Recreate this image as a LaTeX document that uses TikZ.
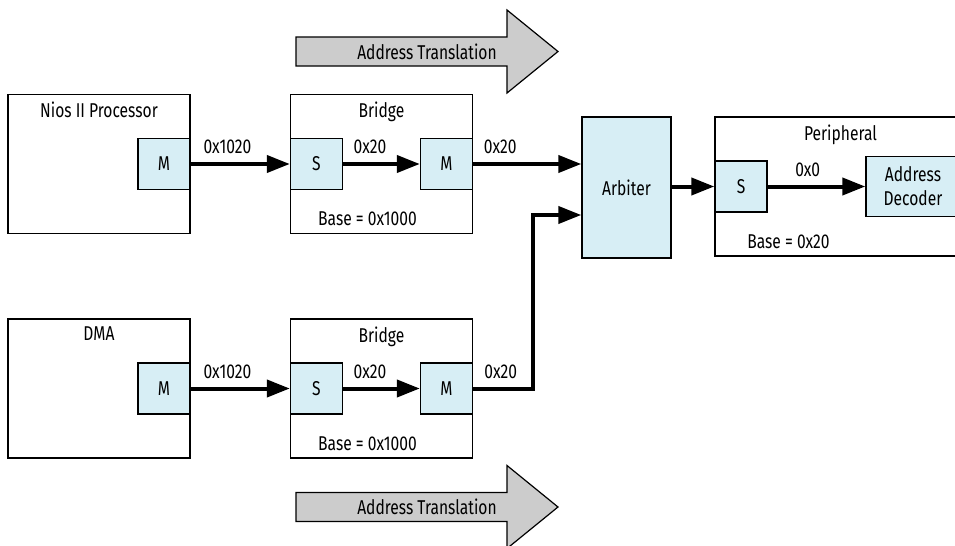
\documentclass[tikz,border=0pt]{standalone}
\usepackage{fontspec}
\setmainfont{Fira Sans}[FakeStretch=0.78]
\usetikzlibrary{arrows.meta, positioning}
\definecolor{portfill}{HTML}{D7EEF5}
\definecolor{xlgray}{HTML}{CCCCCC}
\tikzset{
	unit/.style={draw, line width=0.7pt, minimum width=91pt, minimum height=69.5pt, inner sep=0pt},
	port/.style={draw, line width=0.7pt, fill=portfill, minimum width=26pt, minimum height=25.5pt, inner sep=0pt},
	tag/.style={inner sep=1pt},
	bus/.style={-{Triangle[length=11.5pt, width=8.5pt]}, line width=2pt},
	xlat/.style={draw, line width=0.6pt, fill=xlgray},
}

\begin{document}
\begin{tikzpicture}[x=0.5pt, y=-0.5pt, font=\fontsize{10}{12}\selectfont]
		\useasboundingbox (0,0) rectangle (955,546);

		% address translation arrows
		\foreach \yc/\nm in {51.5/xltop, 507/xlbot} {
			\draw[xlat] (296,\yc-14.5) -- (507,\yc-14.5) -- (507,\yc-41.5) -- (558,\yc)
				-- (507,\yc+41.5) -- (507,\yc+14.5) -- (296,\yc+14.5) -- cycle;
			\node[tag] (\nm) at (427,\yc) {Address Translation};
		}

		% masters
		\node[unit] (nios) at (99,164) {};
		\node[tag, below=3pt of nios.north] (niost) {Nios II Processor};
		\node[port, anchor=east] (niosm) at (nios.east) {M};

		\node[unit] (dma) at (99,388.5) {};
		\node[tag, below=3pt of dma.north] (dmat) {DMA};
		\node[port, anchor=east] (dmam) at (dma.east) {M};

		% bridges
		\node[unit] (brga) at (381.5,164) {};
		\node[tag, below=3pt of brga.north] (brgat) {Bridge};
		\node[tag, above=3pt of brga.south, xshift=-7pt] (brgab) {Base = 0x1000};
		\node[port, anchor=west] (brgas) at (brga.west) {S};
		\node[port, anchor=east] (brgam) at (brga.east) {M};

		\node[unit] (brgb) at (381.5,388.5) {};
		\node[tag, below=3pt of brgb.north] (brgbt) {Bridge};
		\node[tag, above=3pt of brgb.south, xshift=-7pt] (brgbb) {Base = 0x1000};
		\node[port, anchor=west] (brgbs) at (brgb.west) {S};
		\node[port, anchor=east] (brgbm) at (brgb.east) {M};

		% arbiter and slave
		\node[port, minimum width=44.5pt, minimum height=70.5pt] (arb) at (626.5,187.5) {Arbiter};
		\node[unit, minimum width=122.5pt] (peri) at (837.5,186.5) {};
		\node[tag, below=3pt of peri.north, xshift=1.5pt] (perit) {Peripheral};
		\node[tag, above=3pt of peri.south, xshift=-24.5pt] (perib) {Base = 0x20};
		\node[port, anchor=west] (peris) at (peri.west) {S};
		\node[port, anchor=east, minimum width=47pt, minimum height=30pt, align=center] (dec) at (peri.east) {Address\\Decoder};

		\coordinate (jog) at (533,215);
		\coordinate (arbin) at (arb.west |- jog);

		\draw[bus] (niosm) -- node[tag, above=3pt, pos=0.37] (l1) {0x1020} (brgas);
		\draw[bus] (brgas) -- node[tag, above=3pt, pos=0.35] (l2) {0x20} (brgam);
		\draw[bus] (brgam.east) -- node[tag, above=3pt, pos=0.25] (l3) {0x20} (brgam.east -| arb.west);
		\draw[bus] (dmam) -- node[tag, above=3pt, pos=0.37] (l4) {0x1020} (brgbs);
		\draw[bus] (brgbs) -- node[tag, above=3pt, pos=0.35] (l5) {0x20} (brgbm);
		\draw[bus] (brgbm.east) -| node[tag, above=3pt, pos=0.23] (l6) {0x20} (jog) -- (arbin);
		\draw[bus] (arb.east |- peris.west) -- (peris.west);
		\draw[bus] (peris) -- node[tag, above=3pt, pos=0.41] (l7) {0x0} (dec);
	\end{tikzpicture}
\end{document}
